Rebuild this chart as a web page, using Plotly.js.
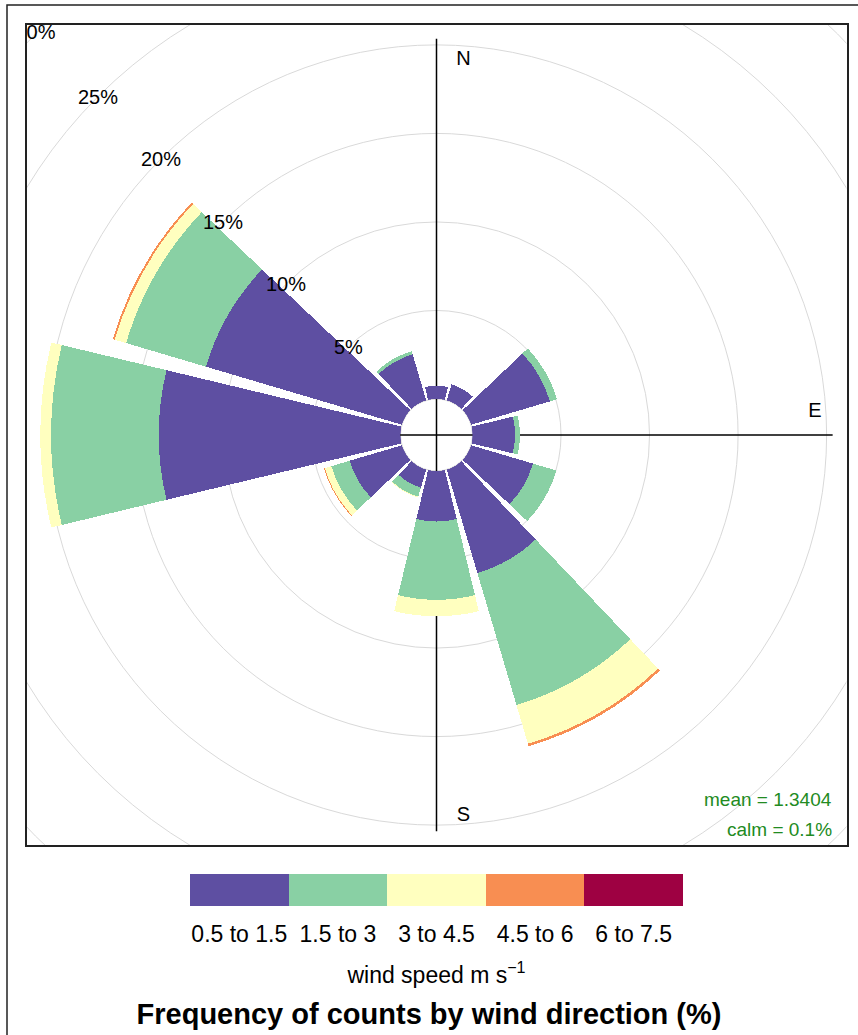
<!DOCTYPE html>
<html>
<head>
<meta charset="utf-8">
<script src="https://cdn.plot.ly/plotly-3.0.1.min.js"></script>
<style>body { margin: 0; background: #fff; }</style>
</head>
<body>
<div id="chart" style="width:858px;height:1035px"></div>
<script>
// wind direction sectors (degrees, clockwise from north)
const directions = [30, 60, 90, 120, 150, 180, 210, 240, 270, 300, 330, 360];
const speedBins = ['0.5 to 1.5', '1.5 to 3', '3 to 4.5', '4.5 to 6', '6 to 7.5'];
const binColours = ['#5E4FA2', '#89D0A4', '#FFFFBF', '#F88E52', '#9E0142'];

// frequency of counts (%) in each speed bin, by direction
const freq05to15 = [0.95, 4.65, 2.40, 3.65, 6.10, 2.85, 1.07, 3.08, 13.65, 11.55, 2.72, 0.75];
const freq15to3  = [0, 0.42, 0.28, 1.38, 7.77, 4.42, 0.53, 1.08, 6.08, 4.70, 0.18, 0];
const freq3to45  = [0, 0, 0, 0, 2.28, 0.93, 0.05, 0.39, 0.61, 0.67, 0, 0];
const freq45to6  = [0, 0, 0, 0, 0.15, 0, 0, 0.05, 0, 0.11, 0, 0];
const freq6to75  = [0, 0, 0, 0, 0, 0, 0, 0, 0, 0, 0, 0];

const pctTicks = [5, 10, 15, 20, 25, 30];
const compassLabels = ['N', 'E', 'S', 'W'];
const meanSpeed = '1.3404';
const calmPct = '0.1';

const series = [freq05to15, freq15to3, freq3to45, freq45to6, freq6to75];

// geometry like openair: offset hole = 10% of max, lattice pads range a bit
const totals = directions.map((d, i) => series.reduce((s, arr) => s + arr[i], 0));
const maxFreq = Math.max(...totals);
const off = 0.1 * maxFreq;
const L = maxFreq + off;
const U = 1.035 * L;

// box (panel) in paper fractions, square 820px
const W = 858, H = 1035;
const dom = { x: [26.5 / W, 846.5 / W], y: [1 - 845 / H, 1 - 25 / H] };

const gridCol = '#d9d9d9';
const font = 'Liberation Sans, Arial, sans-serif';
const ang = 315 * Math.PI / 180;
const nudge = 0.17; // R centres the compass letters a touch lower

const traces = [];

// compass letters sit under the wedges (W is hidden by them)
traces.push({
    type: 'scatter', mode: 'text', xaxis: 'x', yaxis: 'y',
    x: [0.068 * L, 0.955 * L, 0.068 * L, -0.955 * L],
    y: [0.955 * L - nudge, 0.065 * L - nudge, -0.955 * L - nudge, 0.065 * L - nudge],
    text: compassLabels,
    textfont: { family: font, size: 20, color: '#000' },
    hoverinfo: 'skip'
});

// percentage labels that run into the panel edge get clipped
const clippedTicks = pctTicks.filter(v => (off + v) * Math.SQRT1_2 + 1.2 > U);
const shownTicks = pctTicks.filter(v => (off + v) * Math.SQRT1_2 + 1.2 <= U);
traces.push({
    type: 'scatter', mode: 'text', xaxis: 'x', yaxis: 'y', cliponaxis: true,
    x: clippedTicks.map(v => (off + v) * Math.sin(ang)),
    y: clippedTicks.map(v => (off + v) * Math.cos(ang)),
    text: clippedTicks.map(v => v + '%'),
    textfont: { family: font, size: 20, color: '#000' },
    hoverinfo: 'skip'
});

// stacked wedges
series.forEach((vals, i) => {
    traces.push({
        type: 'barpolar', subplot: 'polar',
        r: vals, theta: directions, width: 27,
        name: speedBins[i],
        marker: { color: binColours[i], line: { width: 0 } },
        hoverinfo: 'skip'
    });
});

// colour key
traces.push({
    type: 'bar', xaxis: 'x2', yaxis: 'y2',
    x: speedBins, y: speedBins.map(() => 1),
    marker: { color: binColours, line: { width: 0 } },
    hoverinfo: 'skip'
});

const shapes = [];
// grid rings, starting at the hole
[0].concat(pctTicks).forEach(v => {
    shapes.push({
        type: 'circle', xref: 'x', yref: 'y', layer: 'below',
        x0: -(off + v), x1: off + v, y0: -(off + v), y1: off + v,
        line: { color: gridCol, width: 1 }
    });
});
// cross hair
shapes.push({ type: 'line', xref: 'x', yref: 'y', layer: 'below', x0: -L, x1: L, y0: 0, y1: 0, line: { color: '#000', width: 1.5 } });
shapes.push({ type: 'line', xref: 'x', yref: 'y', layer: 'below', x0: 0, x1: 0, y0: -L, y1: L, line: { color: '#000', width: 1.5 } });
// outer frame of the figure
shapes.push({ type: 'rect', xref: 'paper', yref: 'paper', x0: 7 / W, x1: 1.02, y0: -0.02, y1: 1 - 5 / H, line: { color: '#222', width: 1.5 } });

const annotations = shownTicks.map(v => ({
    xref: 'x', yref: 'y',
    x: (off + v) * Math.sin(ang), y: (off + v) * Math.cos(ang),
    text: v + '%', showarrow: false,
    font: { family: font, size: 20, color: '#000' }
}));
annotations.push({
    xref: 'paper', yref: 'paper', x: 834 / W, y: 1 - 799 / H, xanchor: 'right', yanchor: 'middle',
    text: 'mean = ' + meanSpeed, showarrow: false,
    font: { family: font, size: 19, color: '#228B22' }
});
annotations.push({
    xref: 'paper', yref: 'paper', x: 834 / W, y: 1 - 829 / H, xanchor: 'right', yanchor: 'middle',
    text: 'calm = ' + calmPct + '%', showarrow: false,
    font: { family: font, size: 19, color: '#228B22' }
});

const layout = {
    width: W, height: H,
    margin: { l: 0, r: 0, t: 0, b: 0 },
    paper_bgcolor: '#fff', plot_bgcolor: '#fff',
    showlegend: false,
    bargap: 0,
    font: { family: font, color: '#000' },
    title: {
        text: '<b>Frequency of counts by wind direction (%)</b>',
        font: { family: font, size: 29, color: '#000' },
        x: 0.5, xanchor: 'center', y: 1 - 1014 / H, yanchor: 'middle'
    },
    xaxis: {
        domain: dom.x, range: [-U, U], showgrid: false, zeroline: false,
        showticklabels: false, ticks: '', showline: true, mirror: true,
        linecolor: '#222', linewidth: 2, fixedrange: true
    },
    yaxis: {
        domain: dom.y, range: [-U, U], showgrid: false, zeroline: false,
        showticklabels: false, ticks: '', showline: true, mirror: true,
        linecolor: '#222', linewidth: 2, fixedrange: true
    },
    polar: {
        domain: dom,
        hole: off / U,
        bgcolor: 'rgba(0,0,0,0)',
        barmode: 'stack',
        radialaxis: { range: [0, U - off], showgrid: false, showline: false, showticklabels: false, ticks: '' },
        angularaxis: { rotation: 90, direction: 'clockwise', showgrid: false, showline: false, showticklabels: false, ticks: '' }
    },
    xaxis2: {
        domain: [190 / W, 683 / W], anchor: 'y2',
        showgrid: false, zeroline: false, showline: false, ticks: '',
        ticklabelstandoff: 12,
        tickfont: { family: font, size: 23, color: '#000' },
        title: { text: 'wind speed m s<sup>\u22121</sup>', font: { family: font, size: 23, color: '#000' }, standoff: 20 },
        fixedrange: true
    },
    yaxis2: {
        domain: [1 - 906 / H, 1 - 874 / H], anchor: 'x2', range: [0, 1],
        visible: false, fixedrange: true
    },
    shapes: shapes,
    annotations: annotations
};

Plotly.newPlot('chart', traces, layout, { displayModeBar: false, staticPlot: true });
</script>
</body>
</html>
